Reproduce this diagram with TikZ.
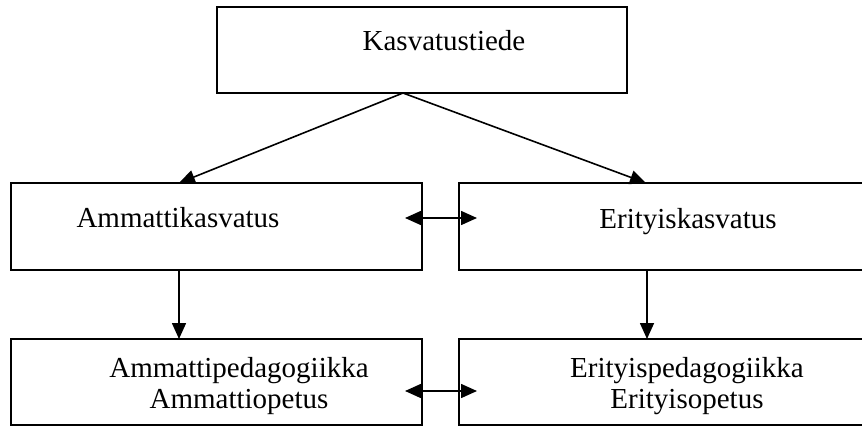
\documentclass[tikz,border=0pt]{standalone}
\usepackage{fontspec}
\setmainfont{Liberation Serif}
\usetikzlibrary{arrows.meta,calc}

\tikzset{
  box/.style={draw=black, line width=2pt, rectangle, inner sep=0pt, outer sep=0pt, anchor=north west},
  lbl/.style={anchor=base, inner sep=0pt, font=\fontsize{29pt}{33pt}\selectfont},
  arr/.style={line width=1.6pt, -{Triangle[length=16pt,width=14pt]}},
  darr/.style={line width=1.6pt, {Triangle[length=16pt,width=14pt]}-{Triangle[length=16pt,width=14pt]}}
}

\begin{document}
\begin{tikzpicture}[x=1pt, y=-1pt]
  \useasboundingbox (0,0) rectangle (862,426);
  \clip (0,0) rectangle (862,426);

  % boxes
  \node[box, minimum width=410pt, minimum height=86pt] (top)  at (217,7)   {};
  \node[box, minimum width=411pt, minimum height=87pt] (midL) at (11,183)  {};
  \node[box, minimum width=420pt, minimum height=87pt] (midR) at (459,183) {};
  \node[box, minimum width=411pt, minimum height=86pt] (botL) at (11,339)  {};
  \node[box, minimum width=420pt, minimum height=86pt] (botR) at (459,339) {};

  % labels
  \node[lbl] (tTop)  at (444,50)  {Kasvatustiede};
  \node[lbl] (tMidL) at (178,227) {Ammattikasvatus};
  \node[lbl] (tMidR) at (688,228) {Erityiskasvatus};
  \node[lbl] (tBotL1) at (239,377) {Ammattipedagogiikka};
  \node[lbl] (tBotL2) at (239,408) {Ammattiopetus};
  \node[lbl] (tBotR1) at (687,377) {Erityispedagogiikka};
  \node[lbl] (tBotR2) at (687,408) {Erityisopetus};

  % connector anchor points
  \coordinate (fork) at ([xshift=186pt]top.south west);
  \coordinate (inL)  at ([xshift=168pt]midL.north west);
  \coordinate (inR)  at ([xshift=187pt]midR.north west);
  \coordinate (outL) at ([xshift=168pt]midL.south west);
  \coordinate (outR) at ([xshift=188pt]midR.south west);
  \coordinate (dnL)  at ([xshift=168pt]botL.north west);
  \coordinate (dnR)  at ([xshift=188pt]botR.north west);
  \coordinate (sideL1) at ($(midL.north east)+(-17,35)$);
  \coordinate (sideR1) at ($(midR.north west)+(18,35)$);
  \coordinate (sideL2) at ($(botL.north east)+(-17,52)$);
  \coordinate (sideR2) at ($(botR.north west)+(18,52)$);

  % connectors
  \draw[arr] (fork) -- (inL);
  \draw[arr] (fork) -- (inR);
  \draw[arr] (outL) -- (dnL);
  \draw[arr] (outR) -- (dnR);
  \draw[darr] (sideL1) -- (sideR1);
  \draw[darr] (sideL2) -- (sideR2);
\end{tikzpicture}
\end{document}
